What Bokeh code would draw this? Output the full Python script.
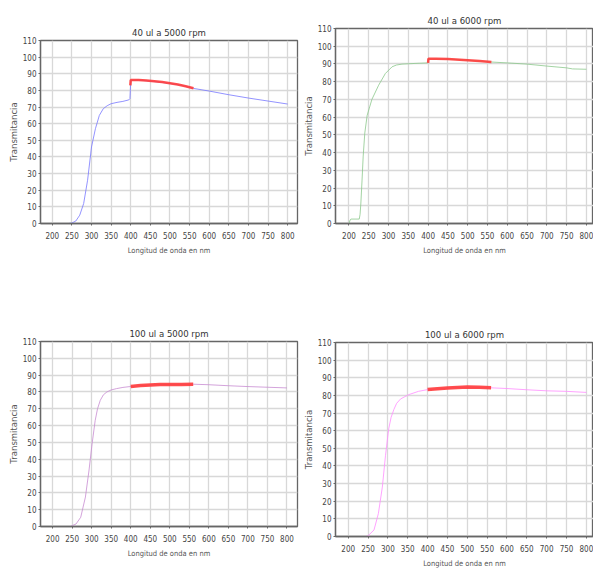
from bokeh.plotting import figure
from bokeh.layouts import column, row
from bokeh.models import FixedTicker, Range1d
from bokeh.embed import file_html
from bokeh.resources import INLINE

# ---------------- data ----------------
titles = ["40 ul a 5000 rpm", "40 ul a 6000 rpm", "100 ul a 5000 rpm", "100 ul a 6000 rpm"]
x_label = "Longitud de onda en nm"
y_label = "Transmitancia"
x_ticks = [200, 250, 300, 350, 400, 450, 500, 550, 600, 650, 700, 750, 800]
y_ticks = [0, 10, 20, 30, 40, 50, 60, 70, 80, 90, 100, 110]

# 40 ul a 5000 rpm
wl_a = [242, 250, 260, 270, 280, 290, 300, 310, 320, 330, 340, 350, 365, 380, 395, 398, 399, 400,
        420, 450, 480, 500, 530, 560, 600, 650, 700, 750, 800]
tr_a = [0, 0.3, 1.5, 5, 12, 26, 46, 57, 65, 69, 70.8, 72, 72.8, 73.4, 74.3, 75, 80, 86,
        86.2, 85.6, 84.8, 84.2, 83, 81.2, 79.6, 77.4, 75.4, 73.6, 71.8]
wl_a_red = [399, 400, 410, 420, 440, 460, 480, 500, 520, 540, 560]
tr_a_red = [83, 86.2, 86.3, 86.2, 85.9, 85.5, 85, 84.3, 83.5, 82.5, 81.3]

# 40 ul a 6000 rpm
wl_b = [200, 203, 205, 226, 228, 230, 233, 236, 240, 246, 258, 275, 292, 309, 320, 334, 350, 367,
        399, 400, 450, 500, 560, 600, 650, 700, 750, 765, 800]
tr_b = [0, 2, 2.5, 2.5, 5, 11, 24, 38, 51, 61, 70, 78, 84.6, 88.4, 89.4, 89.9, 90.1, 90.3,
        90.6, 92.8, 92.7, 92.1, 91.1, 90.6, 89.9, 88.8, 87.8, 87.2, 87]
wl_b_red = [400, 401, 420, 450, 480, 500, 530, 560]
tr_b_red = [90.6, 93, 93, 92.8, 92.4, 92.1, 91.6, 91.1]

# 100 ul a 5000 rpm
wl_c = [246, 250, 260, 272, 284, 293, 301, 309, 315, 322, 330, 339, 350, 364, 380, 398,
        450, 500, 560, 600, 650, 700, 750, 800]
tr_c = [0, 0.5, 1.5, 5.5, 17.5, 33, 49, 63, 70, 75, 78.3, 80, 81.2, 82, 82.7, 83.2,
        84.2, 84.5, 84.6, 84.3, 83.7, 83.2, 82.8, 82.4]
wl_c_red = [400, 425, 450, 475, 500, 530, 560]
tr_c_red = [83.3, 83.8, 84.2, 84.4, 84.5, 84.5, 84.6]

# 100 ul a 6000 rpm
wl_d = [244, 250, 265, 276, 286, 294, 302, 308, 315, 322, 332, 352, 377, 398,
        450, 500, 560, 600, 650, 700, 750, 800]
tr_d = [0, 0.4, 3.7, 13, 28, 46, 61, 67.5, 72, 75.5, 78, 80.4, 82.3, 83.2,
        84.1, 84.7, 84.3, 83.9, 83.2, 82.6, 82.3, 81.7]
wl_d_red = [400, 425, 450, 475, 500, 530, 560]
tr_d_red = [83.3, 83.8, 84.2, 84.5, 84.7, 84.6, 84.3]

NARROW = "DejaVu Sans Condensed, DejaVu Sans, sans-serif"


def make(title, wl, tr, wl_red, tr_red, color, red_w, xr, w, h, bl, br, bt, bb):
    p = figure(width=w, height=h, output_backend="svg", toolbar_location=None,
               x_range=Range1d(*xr), y_range=Range1d(0, 110),
               min_border_left=bl, min_border_right=br, min_border_top=bt, min_border_bottom=bb,
               background_fill_color="white", border_fill_color="white")
    p.title.text = title
    p.title.align = "center"
    p.title.text_font = NARROW
    p.title.text_font_size = "9.5px"
    p.title.text_font_style = "normal"
    p.title.text_color = "#333333"
    p.title.standoff = 5
    p.xaxis.ticker = FixedTicker(ticks=x_ticks)
    p.yaxis.ticker = FixedTicker(ticks=y_ticks)
    p.xaxis.axis_label = x_label
    p.yaxis.axis_label = y_label
    for ax in (p.xaxis[0], p.yaxis[0]):
        ax.major_label_text_font = NARROW
        ax.major_label_text_font_size = "8px"
        ax.major_label_text_color = "#444444"
        ax.major_tick_out = 2
        ax.major_tick_in = 0
        ax.minor_tick_out = 0
        ax.minor_tick_in = 0
        ax.axis_line_color = "#666666"
        ax.axis_line_width = 1.3
        ax.major_tick_line_color = "#666666"
        ax.axis_label_text_font_style = "normal"
        ax.axis_label_text_color = "#555555"
    p.xaxis.major_label_standoff = 6
    p.xaxis.axis_label_standoff = 4
    p.yaxis.major_label_standoff = 2
    p.yaxis.axis_label_standoff = 1
    p.xaxis.axis_label_text_font = NARROW
    p.xaxis.axis_label_text_font_size = "7.5px"
    p.yaxis.axis_label_text_font = "DejaVu Sans"
    p.yaxis.axis_label_text_font_size = "8.5px"
    p.grid.grid_line_color = "#d8d8d8"
    p.grid.grid_line_width = 1.3
    p.outline_line_color = "#666666"
    p.outline_line_width = 1.3
    p.line(wl, tr, line_color=color, line_width=1.0, line_alpha=0.8)
    p.line(wl_red, tr_red, line_color="#ff3b3b", line_width=red_w, line_alpha=0.9)
    return p


p1 = make(titles[0], wl_a, tr_a, wl_a_red, tr_a_red, "#7878ff", 2.5,
          (170, 825), 300, 300, 40, 3, 40, 77)
p3 = make(titles[2], wl_c, tr_c, wl_c_red, tr_c_red, "#c88cd2", 3.5,
          (169, 827), 300, 270, 36, 3, 41, 44)
p2 = make(titles[1], wl_b, tr_b, wl_b_red, tr_b_red, "#8cc88c", 2.5,
          (166, 818), 293, 300, 33, 0, 28, 77)
p4 = make(titles[3], wl_d, tr_d, wl_d_red, tr_d_red, "#ff8cff", 3.5,
          (168, 818), 293, 270, 33, 0, 42, 30)

layout = row(column(p1, p3, spacing=0), column(p2, p4, spacing=0), spacing=0)

with open("out.html", "w") as f:
    f.write(file_html(layout, INLINE))
